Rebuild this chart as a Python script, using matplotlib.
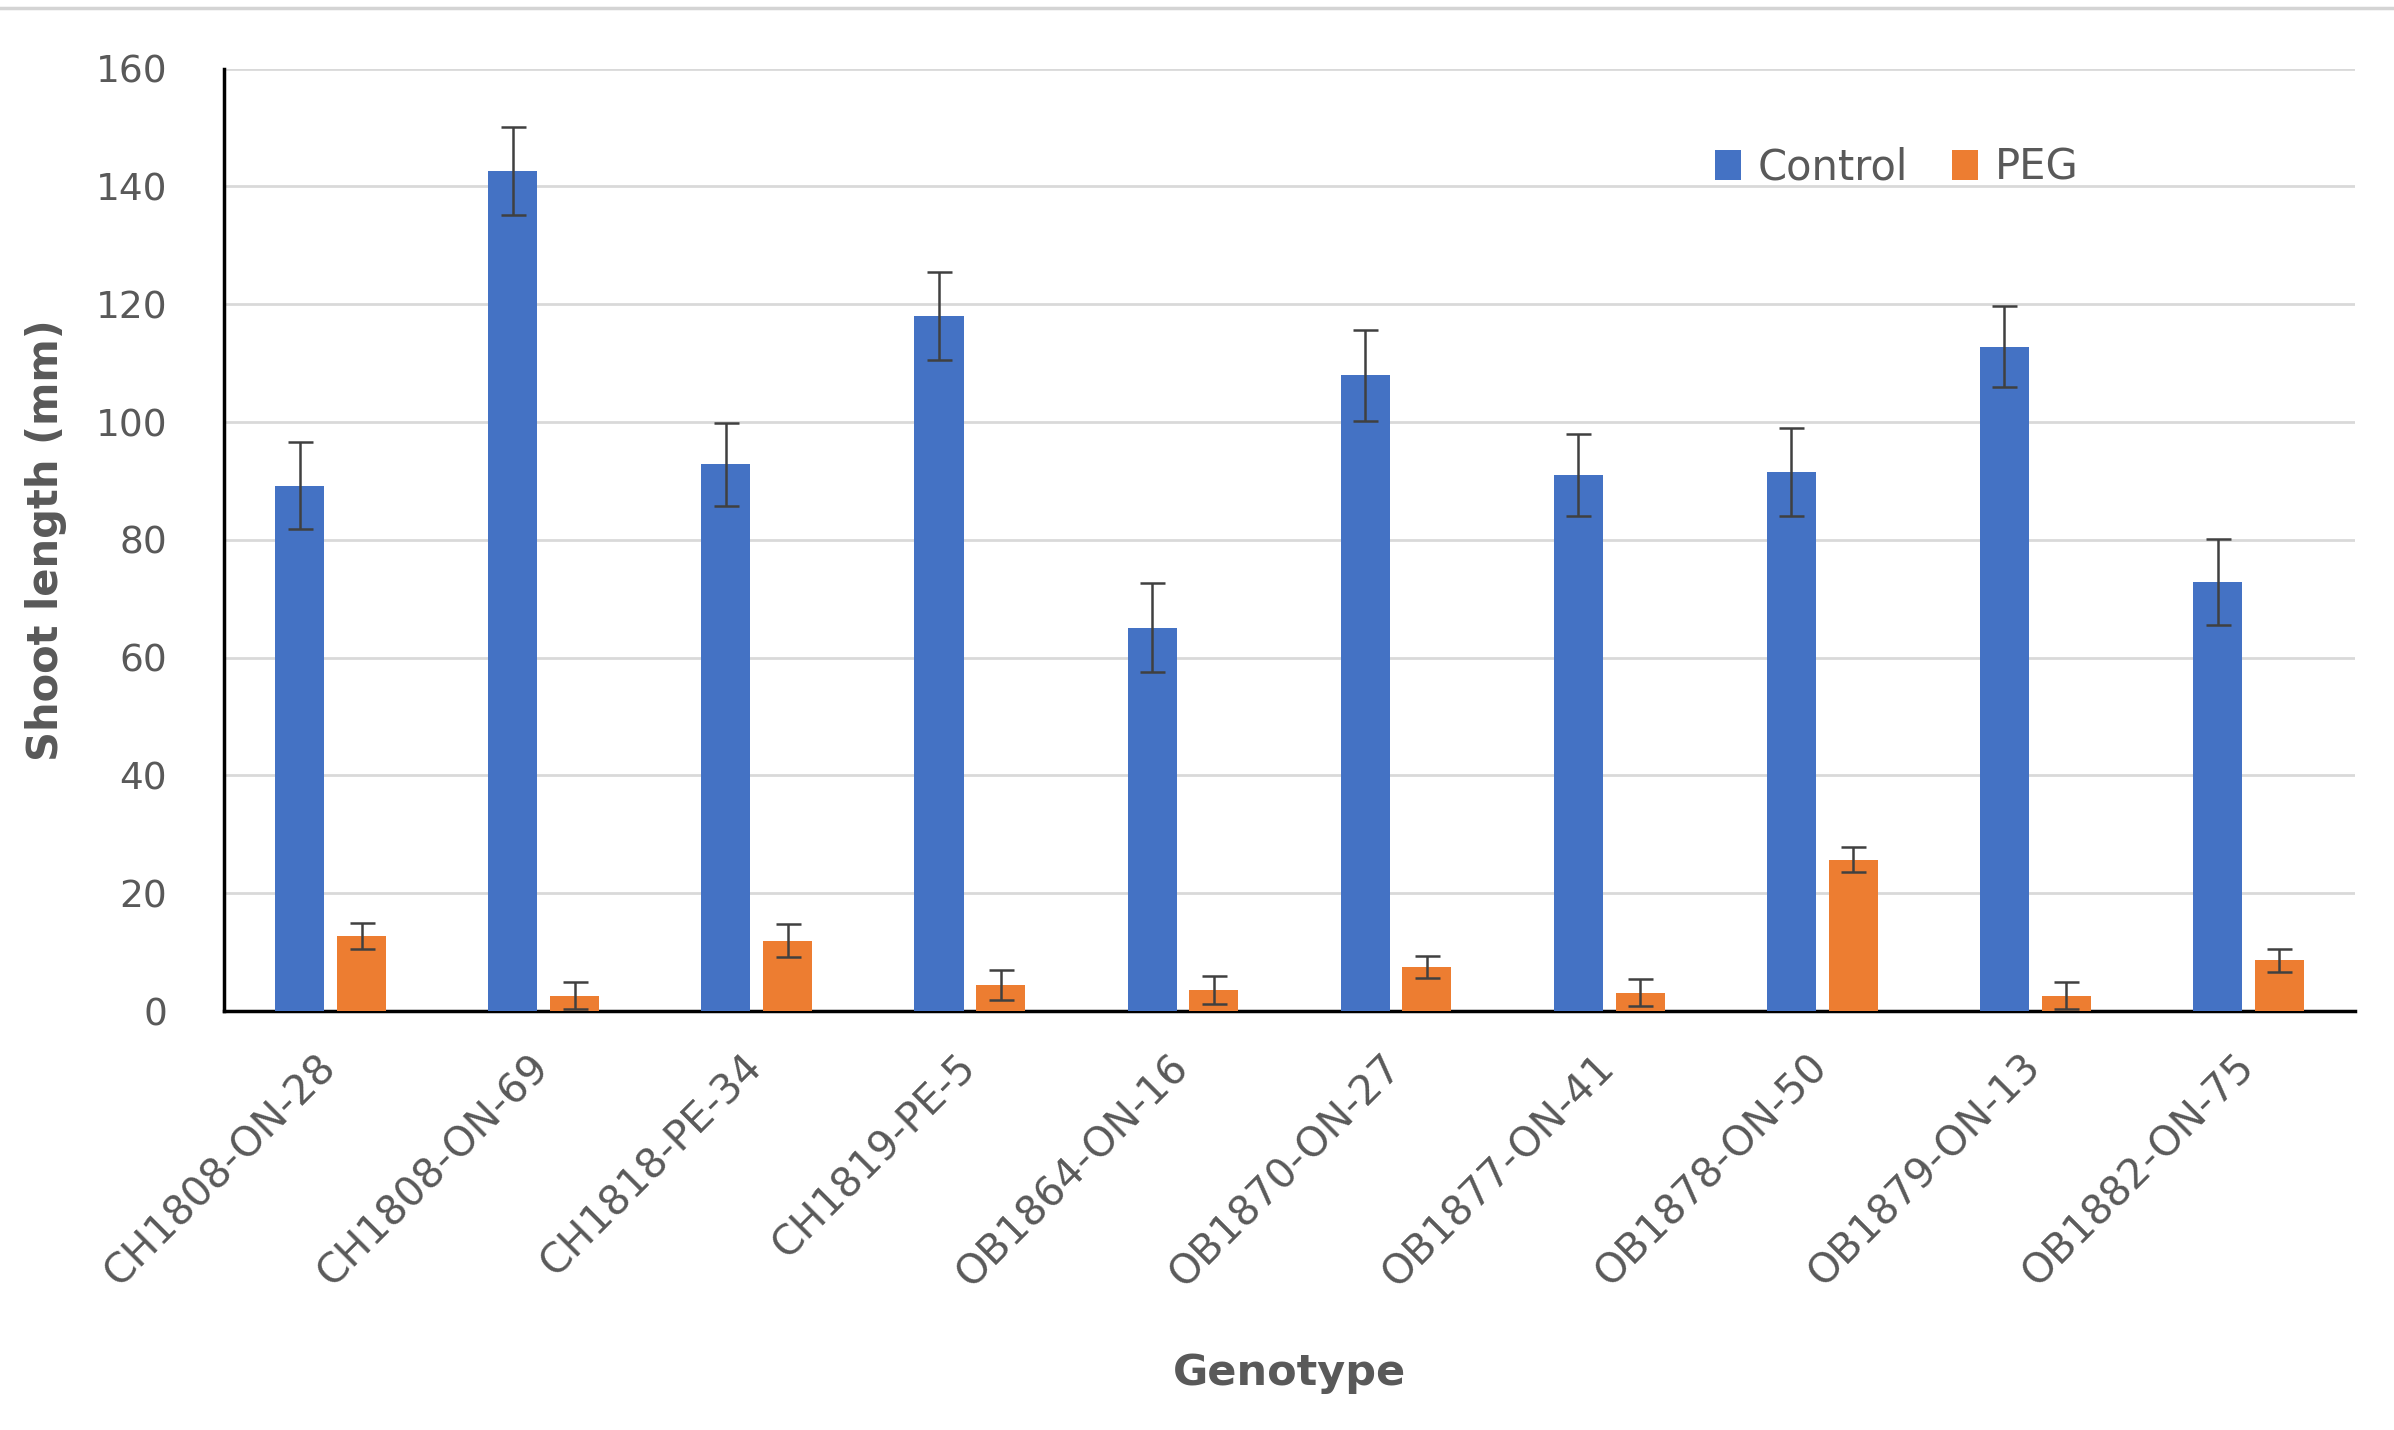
import numpy as np
import matplotlib
matplotlib.use("Agg")
import matplotlib.pyplot as plt
from matplotlib.lines import Line2D

# values
genotypes = ['CH1808-ON-28', 'CH1808-ON-69', 'CH1818-PE-34', 'CH1819-PE-5',
             'OB1864-ON-16', 'OB1870-ON-27', 'OB1877-ON-41', 'OB1878-ON-50',
             'OB1879-ON-13', 'OB1882-ON-75']
control = [89.2, 142.6, 92.8, 118.0, 65.1, 107.9, 91.0, 91.5, 112.8, 72.9]
control_err = [7.4, 7.5, 7.0, 7.5, 7.5, 7.7, 6.9, 7.5, 6.9, 7.3]
peg = [12.7, 2.6, 11.9, 4.4, 3.6, 7.5, 3.1, 25.7, 2.6, 8.6]
peg_err = [2.2, 2.3, 2.8, 2.6, 2.4, 1.9, 2.3, 2.1, 2.3, 2.0]

blue = '#4472C4'
orange = '#ED7D31'
grey = '#595959'
fs = 27

plt.rcParams['font.family'] = ['DejaVu Sans']

fig = plt.figure(figsize=(23.94, 14.30), dpi=100)
ax = fig.add_axes([0.0936, 0.293, 0.8901, 0.659])

x = np.arange(len(genotypes))
w = 0.23
off = 0.145
ekw = dict(ecolor='#404040', elinewidth=1.8, capsize=9, capthick=1.8)

ax.bar(x - off, control, w, color=blue, label='Control', zorder=3)
ax.errorbar(x - off, control, yerr=control_err, fmt='none', zorder=4, **ekw)
ax.bar(x + off, peg, w, color=orange, label='PEG', zorder=3)
ax.errorbar(x + off, peg, yerr=peg_err, fmt='none', zorder=4, **ekw)

ax.set_xlim(-0.5, len(genotypes) - 0.5)
ax.set_ylim(0, 160)
ax.set_yticks(np.arange(0, 161, 20))
ax.yaxis.grid(True, color='#d9d9d9', linewidth=2, zorder=0)
ax.set_axisbelow(True)

for s in ['top', 'right']:
    ax.spines[s].set_visible(False)
ax.spines['left'].set_linewidth(2.5)
ax.spines['bottom'].set_linewidth(2.5)
ax.spines['left'].set_color('black')
ax.spines['bottom'].set_color('black')

ax.set_xticks(x)
ax.set_xticklabels(genotypes, rotation=45, ha='right', va='center',
                   rotation_mode='anchor')
ax.tick_params(axis='x', length=0, pad=36, labelsize=29.5, labelcolor=grey)
ax.tick_params(axis='y', length=0, pad=41, labelsize=fs, labelcolor=grey)

ax.set_xlabel('Genotype', fontsize=31, fontweight='bold', color=grey)
ax.xaxis.label.set_va('center')
ax.xaxis.set_label_coords(0.5, -0.384)
ax.set_ylabel('Shoot length (mm)', fontsize=30, fontweight='bold', color=grey)
ax.yaxis.label.set_va('center')
ax.yaxis.set_label_coords(-0.0835, 0.5)

leg = ax.legend(ncol=2, frameon=False, loc='center left',
                bbox_to_anchor=(0.69, 0.895), fontsize=30, borderpad=0,
                handlelength=0.62, handleheight=0.72, handletextpad=0.4,
                columnspacing=1.06)
for t in leg.get_texts():
    t.set_color(grey)

# thin grey border line at the top of the picture
fig.add_artist(Line2D([0, 1], [0.9945, 0.9945], transform=fig.transFigure,
                      color='#d4d4d4', linewidth=2.5))

fig.savefig('out.png', dpi=100, facecolor='white')
